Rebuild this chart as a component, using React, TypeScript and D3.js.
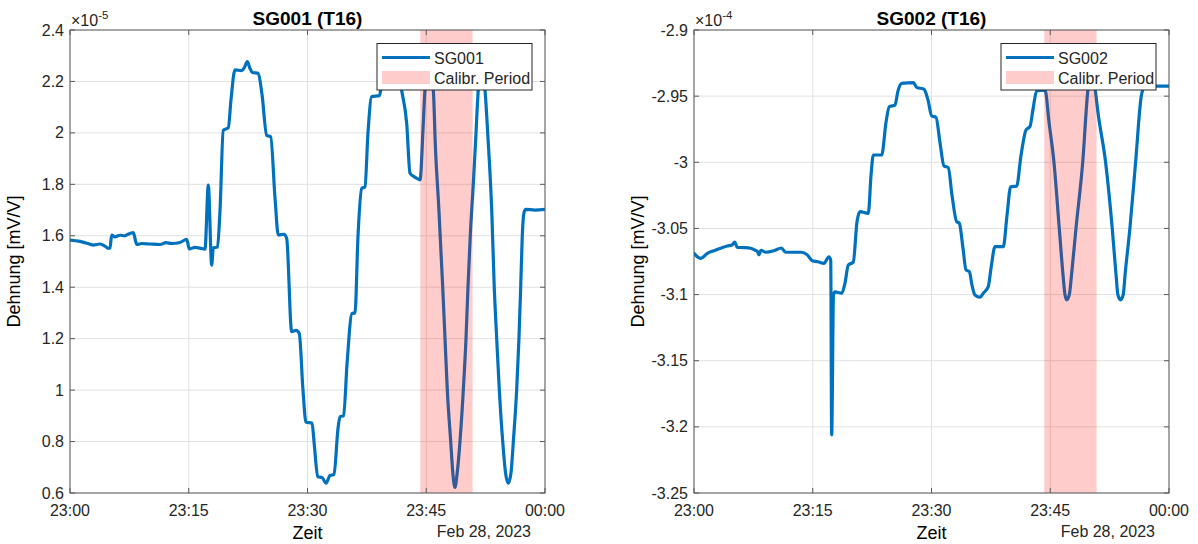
import React from "react";
import * as d3 from "d3";

// Time window shown on both panels: 23:00 to 00:00
const START = new Date(2023, 1, 28, 23, 0, 0);
const END = new Date(2023, 2, 1, 0, 0, 0);
const dateLabel = "Feb 28, 2023";
const xLabel = "Zeit";
const yLabel = "Dehnung [mV/V]";

// Calibration period, minutes after 23:00
const calibMinutes = [44.25, 50.85];
const calibName = "Calibr. Period";

// SG001 strain, in units of 1e-5 mV/V
const sg001Minutes = [
  0, 1.26, 2.02, 2.94, 3.79, 4.42, 4.84, 5.05, 5.27, 5.68, 6.32, 6.95, 7.33, 8.0, 8.43, 9.09,
  10.11, 11.37, 12.13, 12.88, 13.9, 14.74, 15.07, 15.79, 16.42, 17.05, 17.47, 17.9, 18.1, 18.63,
  18.95, 19.36, 20.0, 20.34, 20.84, 21.69, 22.04, 22.4, 22.74, 23.05, 23.78, 24.25, 24.85, 25.35,
  25.89, 26.31, 27.03, 27.37, 28.0, 28.55, 28.96, 29.43, 29.81, 30.57, 30.88, 31.29, 31.83, 32.36,
  32.83, 33.35, 33.85, 34.11, 34.56, 34.99, 35.62, 36.0, 36.38, 36.85, 37.26, 37.64, 38.11, 39.09,
  39.41, 41.68, 42.0, 42.53, 42.95, 43.45, 44.0, 44.21, 44.63, 44.84, 45.35, 45.89, 46.15, 46.6,
  47.08, 47.37, 47.66, 48.09, 48.38, 48.63, 48.88, 49.26, 49.68, 50.02, 50.27, 50.56, 50.94, 51.22,
  51.57, 52.0, 52.42, 52.8, 53.27, 53.59, 53.9, 54.23, 54.66, 55.01, 55.36, 55.71, 56.0, 56.42,
  56.71, 56.93, 57.13, 57.35, 57.56, 58.74, 60,
];
const sg001Values = [
  1.583, 1.578, 1.572, 1.564, 1.568, 1.56, 1.551, 1.553, 1.603, 1.596, 1.602, 1.6, 1.606, 1.612,
  1.566, 1.57, 1.568, 1.566, 1.573, 1.57, 1.574, 1.586, 1.549, 1.555, 1.552, 1.548, 1.797, 1.486,
  1.553, 1.556, 1.7, 2.01, 2.02, 2.13, 2.245, 2.242, 2.255, 2.277, 2.25, 2.235, 2.232, 2.15, 1.99,
  1.985, 1.75, 1.603, 1.606, 1.59, 1.227, 1.232, 1.22, 1.0, 0.875, 0.872, 0.78, 0.663, 0.66, 0.638,
  0.668, 0.672, 0.85, 0.897, 0.9, 1.1, 1.298, 1.3, 1.6, 1.784, 1.79, 2.0, 2.141, 2.145, 2.19, 2.19,
  2.147, 2.037, 1.843, 1.83, 1.82, 1.817, 2.04, 2.167, 2.26, 2.167, 1.95, 1.7, 1.4, 1.2, 1.0, 0.8,
  0.67, 0.622, 0.67, 0.8, 1.0, 1.2, 1.4, 1.6, 1.8, 1.96, 2.167, 2.26, 2.167, 1.98, 1.7, 1.4, 1.2,
  1.0, 0.8, 0.68, 0.638, 0.68, 0.8, 1.0, 1.2, 1.4, 1.6, 1.69, 1.703, 1.7, 1.703,
];
const sg001Ticks = [0.6, 0.8, 1, 1.2, 1.4, 1.6, 1.8, 2, 2.2, 2.4];

// SG002 strain, in units of 1e-4 mV/V
const sg002Minutes = [
  0, 0.85, 1.64, 2.53, 3.37, 4.21, 4.8, 5.14, 5.47, 6.32, 7.16, 7.71, 8.02, 8.21, 8.46, 9.06,
  10.11, 11.03, 11.58, 12.63, 13.52, 14.31, 14.94, 15.66, 16.42, 17.05, 17.27, 17.39, 17.62, 17.81,
  18.66, 19.07, 19.49, 20.12, 20.59, 20.97, 22.02, 22.36, 22.65, 23.71, 24.25, 24.67, 25.39, 25.77,
  26.24, 27.7, 28.13, 29.05, 29.56, 30.03, 30.57, 31.07, 31.58, 32.12, 32.59, 33.18, 33.51, 33.98,
  34.36, 34.78, 35.12, 35.49, 36.13, 36.54, 37.17, 37.52, 38.02, 39.07, 39.54, 40.0, 40.76, 41.3,
  41.94, 42.44, 42.82, 43.29, 44.34, 44.85, 45.47, 46.14, 46.61, 46.86, 47.08, 47.41, 47.69, 48.25,
  49.1, 49.76, 50.27, 50.7, 51.02, 51.99, 52.83, 53.31, 53.54, 53.88, 54.22, 54.45, 55.06, 55.78,
  56.5, 56.79, 57.3, 60,
];
const sg002Values = [
  -3.0688, -3.0727, -3.069, -3.0668, -3.065, -3.0633, -3.0625, -3.0603, -3.0643, -3.0645, -3.065,
  -3.0665, -3.0675, -3.07, -3.0665, -3.068, -3.0668, -3.0648, -3.068, -3.068, -3.068, -3.07,
  -3.0744, -3.0752, -3.0764, -3.0714, -3.074, -3.206, -3.1, -3.098, -3.099, -3.0915, -3.0777,
  -3.0755, -3.045, -3.0373, -3.0386, -3.01, -2.9945, -2.9945, -2.97, -2.958, -2.9567, -2.946,
  -2.9403, -2.9398, -2.9433, -2.9448, -2.953, -2.965, -2.966, -2.985, -3.0028, -3.004, -3.025,
  -3.0449, -3.046, -3.065, -3.0814, -3.0826, -3.093, -3.1003, -3.102, -3.099, -3.094, -3.08,
  -3.0638, -3.0638, -3.04, -3.0185, -3.018, -2.995, -2.9756, -2.973, -2.96, -2.9459, -2.9454,
  -2.97, -3.0, -3.05, -3.085, -3.1, -3.104, -3.1, -3.085, -3.05, -3.0, -2.945, -2.93, -2.946,
  -2.962, -3.0, -3.05, -3.085, -3.1, -3.104, -3.1, -3.085, -3.05, -3.0, -2.95, -2.944, -2.9425,
  -2.9425,
];
const sg002Ticks = [-3.25, -3.2, -3.15, -3.1, -3.05, -3, -2.95, -2.9];

const FONT = "'Liberation Sans', Arial, Helvetica, sans-serif";
const LINE_BLUE = "#0072BD";
const AXIS = "#5a5a5a";
const TEXT = "#262626";
const GRID = "#e1e1e1";

type PanelProps = {
  id: string;
  left: number;
  right: number;
  top: number;
  bottom: number;
  title: string;
  name: string;
  minutes: number[];
  values: number[];
  ticks: number[];
  exponent: string;
};

const toDate = (m: number) => new Date(START.getTime() + m * 60000);

function Panel(p: PanelProps) {
  const x = d3.scaleTime().domain([START, END]).range([p.left, p.right]);
  const y = d3
    .scaleLinear()
    .domain([p.ticks[0], p.ticks[p.ticks.length - 1]])
    .range([p.bottom, p.top]);
  const xTicks = x.ticks(d3.timeMinute.every(15) as any);
  const fmt = d3.timeFormat("%H:%M");
  const pts = p.minutes.map((m, i) => [toDate(m), p.values[i]] as [Date, number]);
  const path = d3
    .line<[Date, number]>()
    .x((d) => x(d[0]))
    .y((d) => y(d[1]))
    .curve(d3.curveMonotoneX)(pts);
  const cx0 = x(toDate(calibMinutes[0]));
  const cx1 = x(toDate(calibMinutes[1]));
  const tickLen = 5;
  const midX = (p.left + p.right) / 2;
  const midY = (p.top + p.bottom) / 2;

  // legend box anchored to the upper right of the axes
  const lgR = p.right - 13;
  const lgL = lgR - 155;
  const lgT = p.top + 13.5;
  const lgB = lgT + 46.5;

  return (
    <g fontFamily={FONT}>
      <defs>
        <clipPath id={`clip-${p.id}`}>
          <rect x={p.left} y={p.top} width={p.right - p.left} height={p.bottom - p.top} />
        </clipPath>
      </defs>
      <rect x={p.left} y={p.top} width={p.right - p.left} height={p.bottom - p.top} fill="#fff" />
      {/* grid */}
      {xTicks.map((t, i) => (
        <line key={`gx${i}`} x1={x(t)} x2={x(t)} y1={p.top} y2={p.bottom} stroke={GRID} strokeWidth={1} />
      ))}
      {p.ticks.map((v, i) => (
        <line key={`gy${i}`} x1={p.left} x2={p.right} y1={y(v)} y2={y(v)} stroke={GRID} strokeWidth={1} />
      ))}
      {/* strain signal */}
      <path
        d={path || ""}
        fill="none"
        stroke={LINE_BLUE}
        strokeWidth={3.2}
        strokeLinejoin="round"
        strokeLinecap="round"
        clipPath={`url(#clip-${p.id})`}
      />
      {/* calibration window, translucent on top of the signal */}
      <rect x={cx0} y={p.top} width={cx1 - cx0} height={p.bottom - p.top} fill="#ff0000" fillOpacity={0.2} />
      {/* axes box and inward ticks */}
      <rect x={p.left} y={p.top} width={p.right - p.left} height={p.bottom - p.top} fill="none" stroke={AXIS} strokeWidth={1} />
      {xTicks.map((t, i) => (
        <g key={`tx${i}`} stroke={AXIS} strokeWidth={1}>
          <line x1={x(t)} x2={x(t)} y1={p.bottom} y2={p.bottom - tickLen} />
          <line x1={x(t)} x2={x(t)} y1={p.top} y2={p.top + tickLen} />
        </g>
      ))}
      {p.ticks.map((v, i) => (
        <g key={`ty${i}`} stroke={AXIS} strokeWidth={1}>
          <line x1={p.left} x2={p.left + tickLen} y1={y(v)} y2={y(v)} />
          <line x1={p.right} x2={p.right - tickLen} y1={y(v)} y2={y(v)} />
        </g>
      ))}
      {/* tick labels */}
      {xTicks.map((t, i) => (
        <text key={`lx${i}`} x={x(t)} y={p.bottom + 23} textAnchor="middle" fontSize={16} fill={TEXT}>
          {fmt(t)}
        </text>
      ))}
      {p.ticks.map((v, i) => (
        <text key={`ly${i}`} x={p.left - 6} y={y(v)} dy="0.35em" textAnchor="end" fontSize={16} fill={TEXT}>
          {String(v)}
        </text>
      ))}
      <text x={p.left + 1} y={p.top - 4} fontSize={16} fill={TEXT}>
        ×10
        <tspan dy={-7} fontSize={11.5}>
          {p.exponent}
        </tspan>
      </text>
      {/* titles */}
      <text x={midX} y={p.top - 5} textAnchor="middle" fontSize={19} fontWeight="bold" fill="#000">
        {p.title}
      </text>
      <text x={midX} y={p.bottom + 46} textAnchor="middle" fontSize={18} fill="#000">
        {xLabel}
      </text>
      <text x={p.right - 14} y={p.bottom + 44} textAnchor="end" fontSize={16} fill={TEXT}>
        {dateLabel}
      </text>
      <text
        transform={`translate(${p.left - 50},${midY}) rotate(-90)`}
        textAnchor="middle"
        fontSize={18}
        fill="#000"
      >
        {yLabel}
      </text>
      {/* legend */}
      <rect x={lgL} y={lgT} width={lgR - lgL} height={lgB - lgT} fill="#fff" stroke={TEXT} strokeWidth={1} />
      <line x1={lgL + 5} x2={lgL + 53} y1={lgT + 14} y2={lgT + 14} stroke={LINE_BLUE} strokeWidth={3.2} />
      <text x={lgL + 57} y={lgT + 20} fontSize={16} fill={TEXT}>
        {p.name}
      </text>
      <rect x={lgL + 5} y={lgT + 27.5} width={48} height={13} fill="#ff0000" fillOpacity={0.2} />
      <text x={lgL + 57} y={lgT + 40} fontSize={16} fill={TEXT}>
        {calibName}
      </text>
    </g>
  );
}

export default function App() {
  return (
    <svg
      width={1198}
      height={544}
      style={{ position: "absolute", left: 0, top: 0, background: "#fff" }}
    >
      <rect x={0} y={0} width={1198} height={544} fill="#fff" />
      <Panel
        id="sg001"
        left={70}
        right={545}
        top={30}
        bottom={493}
        title="SG001 (T16)"
        name="SG001"
        minutes={sg001Minutes}
        values={sg001Values}
        ticks={sg001Ticks}
        exponent="-5"
      />
      <Panel
        id="sg002"
        left={694}
        right={1169}
        top={30}
        bottom={493}
        title="SG002 (T16)"
        name="SG002"
        minutes={sg002Minutes}
        values={sg002Values}
        ticks={sg002Ticks}
        exponent="-4"
      />
    </svg>
  );
}
